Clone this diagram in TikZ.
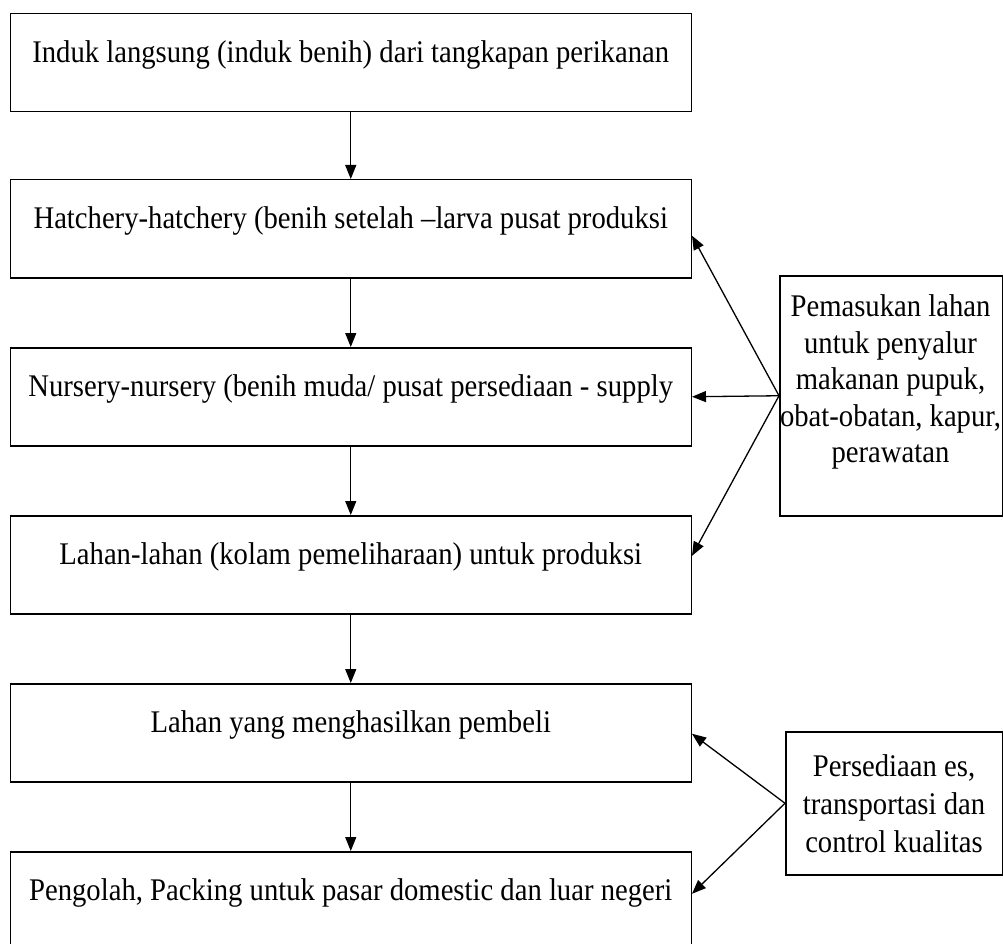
\documentclass[tikz,border=0pt]{standalone}
\usepackage{fontspec}
\setmainfont{Liberation Serif}[FakeStretch=0.91]
\usetikzlibrary{arrows.meta,calc}
\begin{document}
\begin{tikzpicture}[x=1pt,y=-1pt,
  every node/.style={font=\fontsize{31.5}{36.5}\selectfont},
  mainbox/.style={draw, line width=1.5pt, minimum width=681pt, inner sep=0pt,
    text height=49pt, text depth=49pt, anchor=north west},
  sidebox/.style={draw, line width=1.5pt, inner sep=0pt, anchor=north west},
  flow/.style={line width=1.3pt, -{Triangle[length=14pt,width=11pt]}}
]
\useasboundingbox (0,0) rectangle (1003,944);
\clip (0,0) rectangle (1003,944);

\node[mainbox] (b1) at (9.5,12.7) {Induk langsung (induk benih) dari tangkapan perikanan};
\node[mainbox] (b2) at (9.5,179) {Hatchery-hatchery (benih setelah –larva pusat produksi};
\node[mainbox] (b3) at (9.5,347) {Nursery-nursery (benih muda/ pusat persediaan - supply};
\node[mainbox] (b4) at (9.5,515) {Lahan-lahan (kolam pemeliharaan) untuk produksi};
\node[mainbox] (b5) at (9.5,683) {Lahan yang menghasilkan pembeli};
\node[mainbox] (b6) at (9.5,851) {Pengolah, Packing untuk pasar domestic dan luar negeri};

\node[sidebox, minimum width=222.5pt, minimum height=240pt] (r1) at (779,275) {};
\node[align=center, inner sep=0pt] (r1t) at (890.5,382)
  {Pemasukan lahan\\untuk penyalur\\makanan pupuk,\\obat-obatan, kapur,\\perawatan};
\node[sidebox, minimum width=216.5pt, minimum height=143pt, align=center,
  font=\fontsize{31.5}{38}\selectfont] (r2) at (785,731)
  {Persediaan es,\\transportasi dan\\control kualitas};

\draw[flow] (b1.south) -- (b2.north);
\draw[flow] (b2.south) -- (b3.north);
\draw[flow] (b3.south) -- (b4.north);
\draw[flow] (b4.south) -- (b5.north);
\draw[flow] (b5.south) -- (b6.north);

\draw[flow] (r1.west) -- ($(b2.north east)!0.57!(b2.south east)$);
\draw[flow] (r1.west) -- (b3.east);
\draw[flow] (r1.west) -- ($(b4.north east)!0.41!(b4.south east)$);
\draw[flow] (r2.west) -- ($(b5.north east)!0.51!(b5.south east)$);
\draw[flow] (r2.west) -- ($(b6.north east)!0.43!(b6.south east)$);
\end{tikzpicture}
\end{document}
